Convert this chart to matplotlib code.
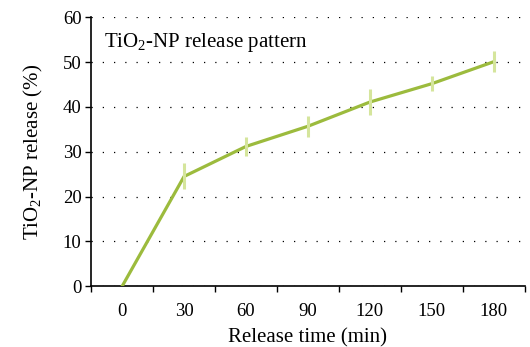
import matplotlib.pyplot as plt
import numpy as np

# data
times = ['0', '30', '60', '90', '120', '150', '180']
release = [0, 24.5, 31.2, 35.7, 41.1, 45.2, 50.1]
release_err = [0, 2.9, 2.2, 2.4, 2.9, 1.7, 2.4]

plt.rcParams['font.family'] = ['Liberation Serif', 'DejaVu Serif']
plt.rcParams['mathtext.fontset'] = 'custom'
plt.rcParams['mathtext.rm'] = 'Liberation Serif'

fig, ax = plt.subplots(figsize=(5.3, 3.47), dpi=100)
plt.subplots_adjust(left=0.172, right=0.99, top=0.95, bottom=0.175)

x = np.arange(len(times))
ax.plot(x, release, color='#9cbb3d', linewidth=2.3, zorder=3)
ax.errorbar(x[1:], release[1:], yerr=release_err[1:], fmt='none',
            ecolor='#d5e59c', elinewidth=2.2, capsize=0, zorder=4)

ax.set_xlim(-0.5, len(times) - 0.5)
ax.set_ylim(0, 60)
ax.set_yticks(range(0, 61, 10))
ax.set_xticks(x)
ax.set_xticklabels(times)
ax.set_xticks(np.arange(-0.5, len(times), 1.0), minor=True)
ax.tick_params(axis='x', which='major', length=0, pad=12, labelsize=13.5)
ax.tick_params(axis='x', which='minor', length=4, width=1, direction='out')
ax.tick_params(axis='y', length=4, width=1, direction='out', labelsize=13.5, pad=3)

ax.grid(axis='y', color='black', linestyle=(0, (1, 8)), linewidth=0.9)
ax.set_axisbelow(True)
for s in ['top', 'right']:
    ax.spines[s].set_visible(False)
for s in ['left', 'bottom']:
    ax.spines[s].set_linewidth(1.2)

ax.set_xlabel('Release time (min)', fontsize=15, labelpad=6)
ax.set_ylabel(r'TiO$_\mathrm{2}$-NP release (%)', fontsize=15, labelpad=13)
ax.text(0.03, 0.95, r'TiO$_\mathrm{2}$-NP release pattern', transform=ax.transAxes,
        fontsize=15, va='top', ha='left')

fig.savefig('out.png', dpi=100)
